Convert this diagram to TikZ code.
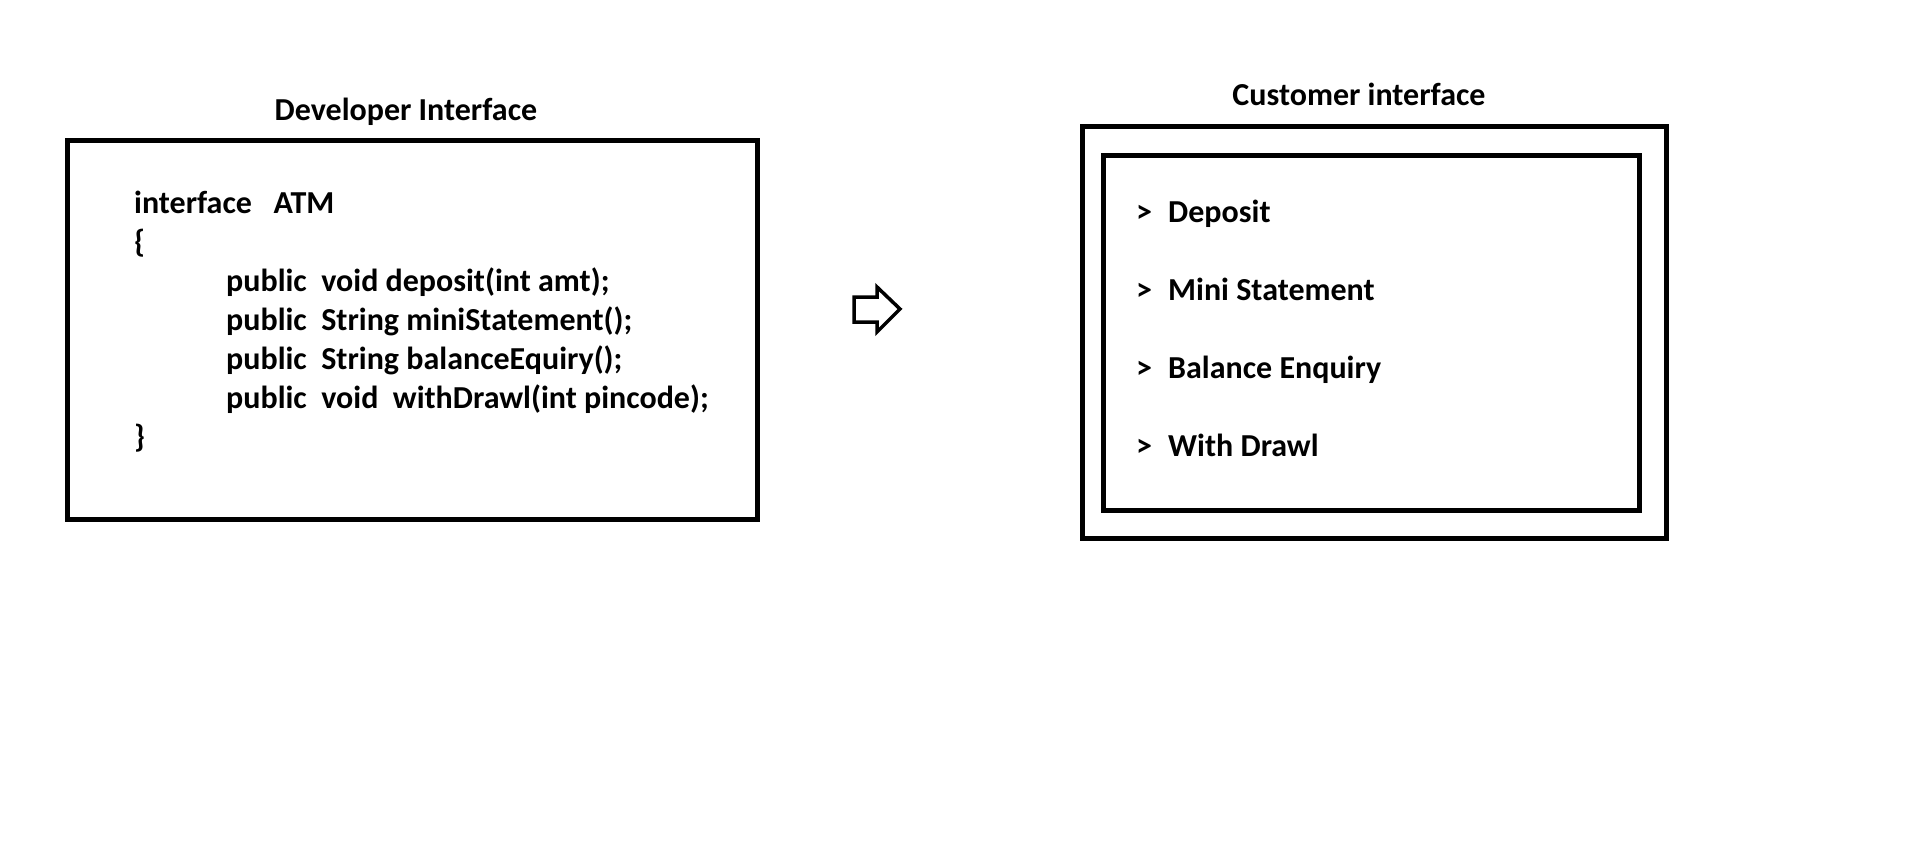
\documentclass[tikz,border=0pt]{standalone}
\usepackage{fontspec}
\setmainfont{Carlito}
\begin{document}
\begin{tikzpicture}[x=1pt,y=-1pt,
  box/.style={draw=black,line width=5pt},
  txt/.style={font=\fontsize{32}{36}\selectfont\bfseries,anchor=base west,inner sep=0pt},
  ttl/.style={font=\fontsize{32}{36}\selectfont\bfseries,anchor=base,inner sep=0pt}]
\useasboundingbox[fill=white] (0,0) rectangle (1914,867);
% Developer interface
\node[ttl] (devt) at (406,120) {Developer Interface};
\draw[box] (67.5,140.5) rectangle (757,519);
\node[txt] (l1) at (134,213) {interface\ \ \ ATM};
\node[txt] (l2) at (134,252) {\{};
\node[txt] (l3) at (226,291) {public\ \ void deposit(int amt);};
\node[txt] (l4) at (226,330) {public\ \ String miniStatement();};
\node[txt] (l5) at (226,369) {public\ \ String balanceEquiry();};
\node[txt] (l6) at (226,408) {public\ \ void\ \ withDrawl(int pincode);};
\node[txt] (l7) at (134,447) {\}};
% arrow
\draw[line width=3.5pt,line join=miter] (854,297) -- (877,297) -- (877,287) -- (900,309) -- (877,332) -- (877,322) -- (854,322) -- cycle;
% Customer interface
\node[ttl] (cust) at (1359,105) {Customer interface};
\draw[box] (1082.5,126.5) rectangle (1666,538);
\draw[box] (1103,155) rectangle (1639,510);
\foreach \t/\y/\n in {Deposit/222/a, Mini Statement/300/b, Balance Enquiry/378/c, With Drawl/456/d}{
  \node[txt] (g\n) at (1136,\y) {>};
  \node[txt] (i\n) at (1168,\y) {\t};
}
\end{tikzpicture}
\end{document}
